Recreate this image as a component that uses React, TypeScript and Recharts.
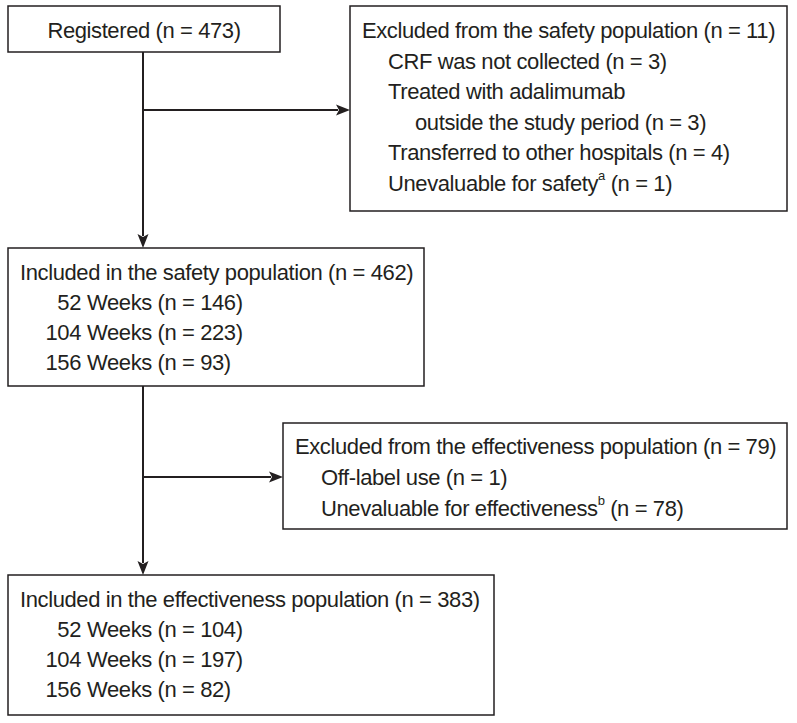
import React from 'react'
import { ComposedChart, XAxis, YAxis, ReferenceArea, ReferenceLine, Scatter } from 'recharts'

// text of each box, [indent level, text]; ^a / ^b mark superscripts
const registeredLines: [number, string][] = [[0, 'Registered (n = 473)']]
const excludedSafetyLines: [number, string][] = [
  [0, 'Excluded from the safety population (n = 11)'],
  [1, 'CRF was not collected (n = 3)'],
  [1, 'Treated with adalimumab'],
  [2, 'outside the study period (n = 3)'],
  [1, 'Transferred to other hospitals (n = 4)'],
  [1, 'Unevaluable for safety^a (n = 1)'],
]
const safetyLines: [number, string][] = [
  [0, 'Included in the safety population (n = 462)'],
  [3, '52 Weeks (n = 146)'],
  [3, '104 Weeks (n = 223)'],
  [3, '156 Weeks (n = 93)'],
]
const excludedEffLines: [number, string][] = [
  [0, 'Excluded from the effectiveness population (n = 79)'],
  [1, 'Off-label use (n = 1)'],
  [1, 'Unevaluable for effectiveness^b (n = 78)'],
]
const effectivenessLines: [number, string][] = [
  [0, 'Included in the effectiveness population (n = 383)'],
  [3, '52 Weeks (n = 104)'],
  [3, '104 Weeks (n = 197)'],
  [3, '156 Weeks (n = 82)'],
]

const W = 797
const H = 723
const INK = '#231f20'
const FONT = "'Liberation Sans Narrow', 'Arial Narrow', sans-serif"
const FS = 22

const boxes = [
  { lines: registeredLines, x1: 8, x2: 280, y1: 6, y2: 52, top: 30, step: 30, center: true },
  { lines: excludedSafetyLines, x1: 350, x2: 787, y1: 6, y2: 211, top: 30, step: 30.5 },
  { lines: safetyLines, x1: 8, x2: 424, y1: 248, y2: 386, top: 272, step: 30 },
  { lines: excludedEffLines, x1: 283, x2: 787, y1: 423, y2: 529, top: 446, step: 31 },
  { lines: effectivenessLines, x1: 8, x2: 494, y1: 575, y2: 715, top: 599, step: 30 },
]

const connectors = [
  { from: [143, 52], to: [143, 248], arrow: true },
  { from: [143, 110], to: [350, 110], arrow: true },
  { from: [143, 386], to: [143, 575], arrow: true },
  { from: [143, 477], to: [283, 477], arrow: true },
]

const indent = [12, 38, 65, 0]

const textPoints = boxes.flatMap((b) =>
  b.lines.map(([level, text], i) => ({
    x: b.center ? (b.x1 + b.x2) / 2 : b.x1 + indent[level],
    y: b.top + i * b.step,
    text,
    level,
    center: !!b.center,
    x0: b.x1,
  }))
)

function renderRich(text: string) {
  const parts = text.split(/\^([a-z])/)
  return parts.map((p, i) =>
    i % 2 === 1 ? (
      <tspan key={i} fontSize={13} dy={-8}>{p}</tspan>
    ) : (
      <tspan key={i} dy={i > 0 ? 8 : 0}>{p}</tspan>
    )
  )
}

function TextLine(props: any) {
  const { cx, cy, payload } = props
  if (cx == null || cy == null) return null
  const common = {
    fill: INK,
    fontFamily: FONT,
    fontSize: FS,
    letterSpacing: -0.4,
    dominantBaseline: 'central' as const,
  }
  if (payload.level === 3) {
    // weeks rows: right-align the number so "Weeks" lines up
    const m = payload.text.match(/^(\d+)\s(.*)$/)
    const numEnd = payload.x0 + 73
    return (
      <g>
        <text {...common} x={numEnd} y={cy} textAnchor="end">{m[1]}</text>
        <text {...common} x={numEnd + 6} y={cy} textAnchor="start">{m[2]}</text>
      </g>
    )
  }
  return (
    <text {...common} x={cx} y={cy} textAnchor={payload.center ? 'middle' : 'start'}>
      {renderRich(payload.text)}
    </text>
  )
}

function Connector(arrow: boolean) {
  return (props: any) => {
    const { x1, y1, x2, y2 } = props
    const len = Math.hypot(x2 - x1, y2 - y1) || 1
    const ux = (x2 - x1) / len
    const uy = (y2 - y1) / len
    const hl = 14
    const hw = 5.5
    const bx = x2 - ux * hl
    const by = y2 - uy * hl
    return (
      <g>
        <line x1={x1} y1={y1} x2={bx + ux * 2} y2={by + uy * 2} stroke={INK} strokeWidth={2} />
        {arrow && (
          <polygon
            points={`${x2},${y2} ${bx - uy * hw},${by + ux * hw} ${bx + ux * 3},${by + uy * 3} ${bx + uy * hw},${by - ux * hw}`}
            fill={INK}
          />
        )}
      </g>
    )
  }
}

export default function App() {
  return (
    <div style={{ position: 'absolute', left: 0, top: 0, background: '#fff' }}>
      <ComposedChart width={W} height={H} margin={{ top: 0, right: 0, bottom: 0, left: 0 }}>
        <XAxis type="number" dataKey="x" domain={[0, W]} hide allowDataOverflow />
        <YAxis type="number" dataKey="y" domain={[0, H]} reversed hide allowDataOverflow />
        {boxes.map((b, i) => (
          <ReferenceArea
            key={`box-${i}`}
            x1={b.x1}
            x2={b.x2}
            y1={b.y1}
            y2={b.y2}
            fill="none"
            stroke={INK}
            strokeWidth={1.5}
            ifOverflow="visible"
          />
        ))}
        {connectors.map((c, i) => (
          <ReferenceLine
            key={`c-${i}`}
            segment={[{ x: c.from[0], y: c.from[1] }, { x: c.to[0], y: c.to[1] }]}
            shape={Connector(c.arrow)}
            ifOverflow="visible"
          />
        ))}
        <Scatter data={textPoints} shape={TextLine} isAnimationActive={false} />
      </ComposedChart>
    </div>
  )
}
